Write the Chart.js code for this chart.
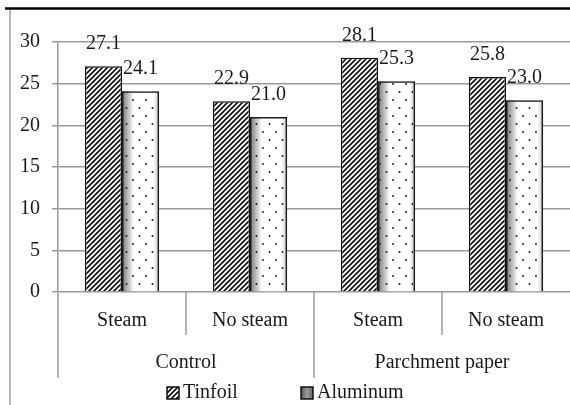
<!DOCTYPE html>
<html>
<head>
<meta charset="utf-8">
<script src="https://cdn.jsdelivr.net/npm/chart.js@4"></script>
<style>
  html, body { margin: 0; padding: 0; background: #fff; }
  #wrap { width: 570px; height: 405px; }
</style>
</head>
<body>
<div id="wrap"><canvas id="chart" width="570" height="405"></canvas></div>
<script>
// data
const categories = ['Steam', 'No steam', 'Steam', 'No steam'];
const groups = ['Control', 'Parchment paper'];
const groupOf = [0, 0, 1, 1];
const tinfoil = [27.1, 22.9, 28.1, 25.8];
const aluminum = [24.1, 21.0, 25.3, 23.0];
const seriesNames = ['Tinfoil', 'Aluminum'];
const yTicks = [0, 5, 10, 15, 20, 25, 30];

const FONT = 'Liberation Serif, Times New Roman, serif';
const TEXT = '#1a1a1a';
const GRID = '#9a9a9a';

// diagonal hatch for the tinfoil bars
function makeHatch() {
    const c = document.createElement('canvas');
    c.width = 5; c.height = 5;
    const g = c.getContext('2d');
    g.fillStyle = '#fff';
    g.fillRect(0, 0, 5, 5);
    g.strokeStyle = '#111';
    g.lineWidth = 1.7;
    g.beginPath();
    g.moveTo(0, 5); g.lineTo(5, 0);
    g.moveTo(-1, 1); g.lineTo(1, -1);
    g.moveTo(4, 6); g.lineTo(6, 4);
    g.stroke();
    return g.createPattern(c, 'repeat');
}

// sparse dots for the aluminum bars (drawn over a gradient)
function makeDots() {
    const c = document.createElement('canvas');
    c.width = 13; c.height = 16;
    const g = c.getContext('2d');
    g.fillStyle = '#222';
    g.beginPath(); g.arc(3, 4, 1, 0, Math.PI * 2); g.fill();
    g.beginPath(); g.arc(9.5, 12, 1, 0, Math.PI * 2); g.fill();
    return g.createPattern(c, 'repeat');
}

const ctx = document.getElementById('chart').getContext('2d');
const hatch = makeHatch();
const dots = makeDots();

function aluGradient(c, left, right) {
    const gr = c.createLinearGradient(left, 0, right, 0);
    gr.addColorStop(0, '#777777');
    gr.addColorStop(0.32, '#ffffff');
    gr.addColorStop(0.85, '#ffffff');
    gr.addColorStop(1, '#c4c4c4');
    return gr;
}

const decorPlugin = {
    id: 'decor',
    beforeDraw(chart) {
        const c = chart.ctx;
        c.save();
        // outer frame bits
        c.strokeStyle = '#000';
        c.lineWidth = 2.5;
        c.beginPath(); c.moveTo(5, 8.5); c.lineTo(chart.width, 8.5); c.stroke();
        c.strokeStyle = '#a0a0a0';
        c.lineWidth = 1.5;
        c.beginPath(); c.moveTo(10, 10); c.lineTo(10, chart.height); c.stroke();
        c.restore();
    },
    beforeDatasetDraw(chart, args) {
        if (args.index !== 1) return;
        const c = chart.ctx;
        c.save();
        args.meta.data.forEach(bar => {
            const p = bar.getProps(['x', 'y', 'base', 'width'], true);
            const l = p.x - p.width / 2, r = p.x + p.width / 2;
            c.fillStyle = aluGradient(c, l, r);
            c.fillRect(l, p.y, p.width, p.base - p.y);
        });
        c.restore();
    },
    afterDatasetsDraw(chart) {
        const c = chart.ctx;
        const area = chart.chartArea;
        const xs = chart.scales.x;
        c.save();
        c.font = '20px ' + FONT;
        c.fillStyle = TEXT;
        c.textAlign = 'center';
        c.textBaseline = 'alphabetic';
        // value labels
        chart.data.datasets.forEach((ds, di) => {
            chart.getDatasetMeta(di).data.forEach((bar, i) => {
                const p = bar.getProps(['x', 'y'], true);
                c.fillText(ds.data[i].toFixed(1), p.x, p.y - 17);
            });
        });

        // category separators below the axis (none at the far right edge)
        c.strokeStyle = GRID;
        c.lineWidth = 1.5;
        const n = categories.length;
        for (let i = 0; i < n; i++) {
            const x = i === 0 ? area.left
                : (xs.getPixelForValue(i - 1) + xs.getPixelForValue(i)) / 2;
            const long = i === 0 || groupOf[i] !== groupOf[i - 1];
            c.beginPath();
            c.moveTo(x, area.bottom);
            c.lineTo(x, long ? 378 : 335);
            c.stroke();
        }

        // group labels
        c.textBaseline = 'middle';
        groups.forEach((g, gi) => {
            const idx = groupOf.map((v, i) => v === gi ? i : -1).filter(i => i >= 0);
            const cx = (xs.getPixelForValue(idx[0]) + xs.getPixelForValue(idx[idx.length - 1])) / 2;
            c.fillText(g, cx, 363);
        });

        // legend
        const items = [
            { x: 167, fill: hatch },
            { x: 301, fill: null }
        ];
        c.textAlign = 'left';
        items.forEach((it, k) => {
            const bx = it.x, by = 387, bs = 12;
            if (it.fill) {
                c.fillStyle = it.fill;
            } else {
                const gr = c.createLinearGradient(bx, 0, bx + bs, 0);
                gr.addColorStop(0, '#555');
                gr.addColorStop(0.5, '#9a9a9a');
                gr.addColorStop(1, '#666');
                c.fillStyle = gr;
            }
            c.fillRect(bx, by, bs, bs);
            c.strokeStyle = '#111';
            c.lineWidth = 1.5;
            c.strokeRect(bx, by, bs, bs);
            c.fillStyle = TEXT;
            c.fillText(seriesNames[k], bx + bs + 4, 393);
        });
        c.restore();
    }
};

new Chart(ctx, {
    type: 'bar',
    data: {
        labels: categories,
        datasets: [{
            label: seriesNames[0],
            data: tinfoil,
            backgroundColor: hatch,
            borderColor: '#111',
            borderWidth: 1.5,
            categoryPercentage: 0.58,
            barPercentage: 1.0
        }, {
            label: seriesNames[1],
            data: aluminum,
            backgroundColor: dots,
            borderColor: '#1a1a1a',
            borderWidth: 1.5,
            categoryPercentage: 0.58,
            barPercentage: 1.0
        }]
    },
    options: {
        responsive: false,
        animation: false,
        layout: {
            padding: { top: 42, left: 10, right: 0, bottom: 0 }
        },
        plugins: {
            legend: { display: false },
            tooltip: { enabled: false }
        },
        scales: {
            x: {
                grid: { display: false, drawTicks: false, tickLength: 0 },
                border: { display: false },
                ticks: {
                    color: TEXT,
                    font: { family: FONT, size: 20 },
                    padding: 17,
                    maxRotation: 0,
                    autoSkip: false
                },
                afterFit(scale) { scale.height = 113; }
            },
            y: {
                min: 0,
                max: 30,
                afterBuildTicks(scale) { scale.ticks = yTicks.map(v => ({ value: v })); },
                grid: { color: GRID, lineWidth: 1.5, tickLength: 6 },
                border: { color: GRID, width: 1.5 },
                ticks: {
                    color: TEXT,
                    font: { family: FONT, size: 20 },
                    padding: 12
                },
                afterFit(scale) { scale.width = 48; }
            }
        }
    },
    plugins: [decorPlugin]
});
</script>
</body>
</html>
